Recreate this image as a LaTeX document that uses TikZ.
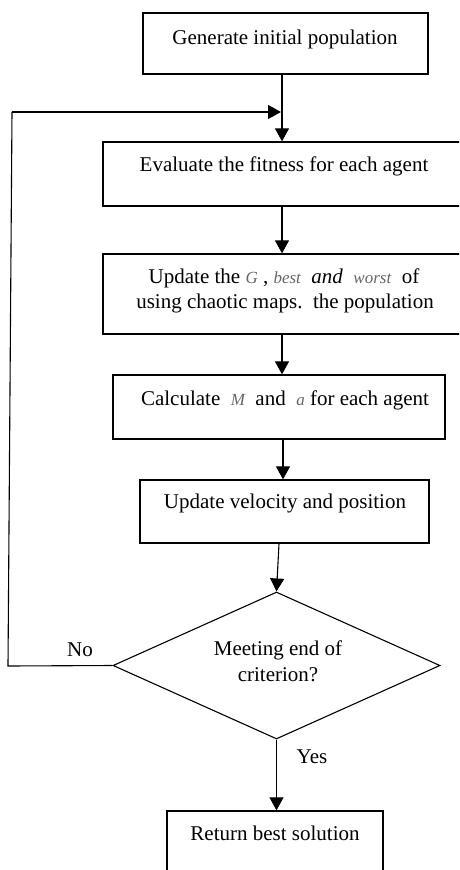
\documentclass[tikz,border=0pt]{standalone}
\usepackage{fontspec}
\setmainfont{Liberation Serif}
\usetikzlibrary{arrows.meta,shapes.geometric}
\begin{document}
\begin{tikzpicture}[x=1pt,y=-1pt,
  box/.style={draw,line width=1.3pt,inner sep=0pt},
  txt/.style={inner sep=0pt,align=center,font=\fontsize{21}{25}\selectfont},
  lbl/.style={inner sep=0pt,font=\fontsize{21}{25}\selectfont},
  arr/.style={line width=1.1pt,-{Triangle[width=14pt,length=13pt]}},
  ln/.style={line width=1.1pt}]
\useasboundingbox (0,0) rectangle (459,870);
\clip (0,0) rectangle (459,870);
\newcommand{\gvar}[1]{{\color{black!60}\fontsize{17}{25}\selectfont\itshape #1}}
% boxes
\node[box,minimum width=285pt,minimum height=61pt] (b1) at (285.5,43.5) {};
\node[box,minimum width=359pt,minimum height=64pt] (b2) at (282.5,174) {};
\node[box,minimum width=359pt,minimum height=80pt] (b3) at (282.5,294) {};
\node[box,minimum width=332pt,minimum height=64pt] (b4) at (279,407) {};
\node[box,minimum width=289pt,minimum height=63pt] (b5) at (284.5,511.5) {};
\node[draw,line width=1.1pt,diamond,aspect=2.224,minimum width=327pt,minimum height=147pt,inner sep=0pt] (d) at (276.5,665.5) {};
\node[box,minimum width=216pt,minimum height=64pt] (b6) at (275,843) {};
% texts
\node[txt] (t1) at (285,39) {Generate initial population};
\node[txt] (t2) at (284,166) {Evaluate the fitness for each agent};
\node[txt] (t3a) at (284,278) {Update the \gvar{G} , \gvar{best} \ \textit{and} \ \gvar{worst} \ of};
\node[txt] (t3b) at (285,303) {using chaotic maps.\ \ the population};
\node[txt] (t4) at (285,400) {Calculate \ \gvar{M} \ and \ \gvar{a} for each agent};
\node[txt] (t5) at (285,503) {Update velocity and position};
\node[txt] (t6a) at (278,650) {Meeting end of};
\node[txt] (t6b) at (278,675) {criterion?};
\node[txt] (t7) at (275,833) {Return best solution};
\node[lbl] (no) at (80,650) {No};
\node[lbl] (yes) at (312,757) {Yes};
% connectors
\coordinate (c1) at (282,74);
\coordinate (c2) at (282,142);
\draw[arr] (b1.south -| c1) -- (b2.north -| c2);
\draw[arr] (b2.south -| c1) -- (b3.north -| c2);
\draw[arr] (b3.south -| c1) -- (b4.north -| c2);
\coordinate (c3) at (283,0);
\draw[arr] (b4.south -| c3) -- (b5.north -| c3);
\coordinate (c4) at (279,0);
\draw[arr] (b5.south -| c4) -- (d.north);
\draw[arr] (d.south) -- (b6.north -| d.south);
\coordinate (fb1) at (8,666);
\coordinate (fb2) at (12,112);
\coordinate (fb3) at (281,112);
\draw[ln] (d.west) -- (fb1) -- (fb2);
\draw[arr] (fb2) -- (fb3);
\end{tikzpicture}
\end{document}
